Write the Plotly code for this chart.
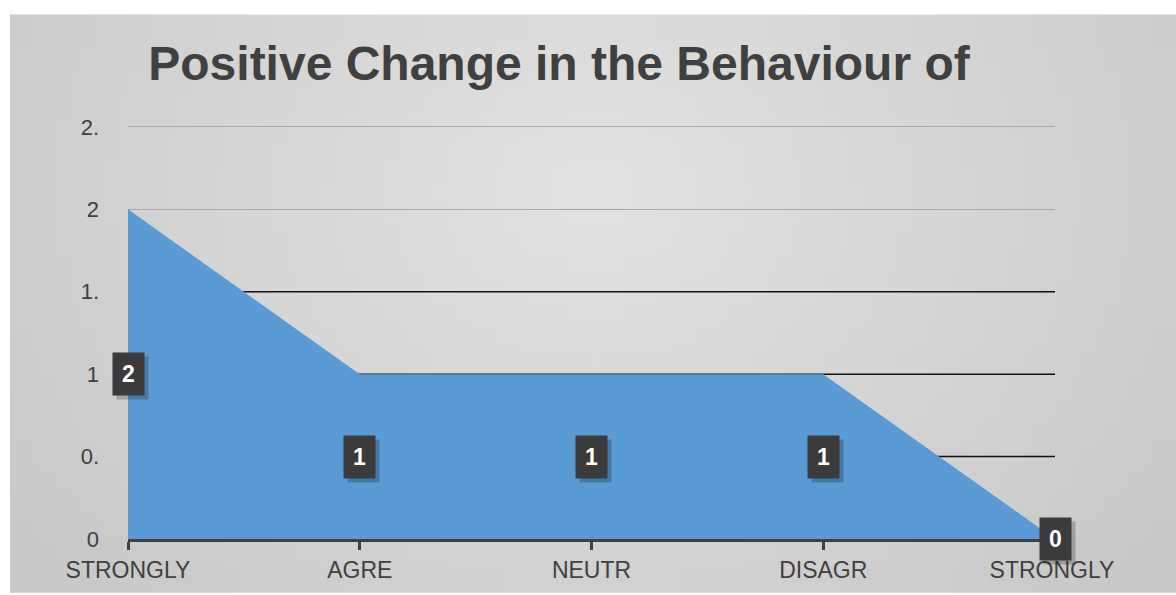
import base64
import struct
import zlib

import plotly.graph_objects as go

categories = ["STRONGLY", "AGRE", "NEUTR", "DISAGR", "STRONGLY "]
counts = [2, 1, 1, 1, 0]
y_tickvals = [0, 0.5, 1, 1.5, 2, 2.5]
y_ticktext = ["0", "0.", "1", "1.", "2", "2."]
dark_lines = [0.5, 1, 1.5]

title_text = "Positive Change in the Behaviour of"

DARK = "#404040"
FILL = "#5B9BD5"
FONT = "Liberation Sans, Arial, sans-serif"


def gradient_png(w, h):
    # soft grey radial gradient for the chart panel background
    rows = []
    for j in range(h):
        row = bytearray([0])
        for i in range(w):
            dx = (i / (w - 1) - 0.5) * 1.5
            dy = (j / (h - 1) - 0.3) * 0.9
            d = min(1.0, (dx * dx + dy * dy) ** 0.5)
            v = int(227 - 28 * d)
            row += bytes([v, v, v])
        rows.append(bytes(row))
    raw = b"".join(rows)

    def chunk(tag, data):
        c = struct.pack(">I", len(data)) + tag + data
        return c + struct.pack(">I", zlib.crc32(tag + data) & 0xFFFFFFFF)

    png = b"\x89PNG\r\n\x1a\n"
    png += chunk(b"IHDR", struct.pack(">IIBBBBB", w, h, 8, 2, 0, 0, 0))
    png += chunk(b"IDAT", zlib.compress(raw, 9))
    png += chunk(b"IEND", b"")
    return "data:image/png;base64," + base64.b64encode(png).decode()


x_idx = list(range(len(categories)))

fig = go.Figure()

# the lower gridlines are drawn darker in the original chart
for v in dark_lines:
    fig.add_trace(go.Scatter(x=[x_idx[0], x_idx[-1]], y=[v, v], mode="lines",
                             line=dict(color="#111111", width=1.5),
                             hoverinfo="skip", showlegend=False))

fig.add_trace(go.Scatter(x=x_idx, y=counts, mode="lines", fill="tozeroy",
                         fillcolor=FILL, line=dict(width=0, color=FILL),
                         hoverinfo="skip", showlegend=False))

# data labels: dark boxes with a drop shadow
for i, c in zip(x_idx, counts):
    fig.add_annotation(x=i, y=c / 2, text="", showarrow=False, width=27, height=38,
                       borderpad=2, bgcolor="rgba(0,0,0,0.22)", xshift=4, yshift=-4)
    fig.add_annotation(x=i, y=c / 2, text=f"<b>{c}</b>", showarrow=False,
                       width=27, height=38, borderpad=2, bgcolor="#3b3b3b",
                       font=dict(family=FONT, size=23, color="white"))

# plot area: y=0 at 541px, 2.5 at 127px (range padded a bit so the top gridline shows)
fig.add_layout_image(source=gradient_png(96, 48), xref="paper", yref="paper",
                     x=(10 - 128) / 927, y=(541 - 14) / 417,
                     sizex=1166 / 927, sizey=581 / 417,
                     xanchor="left", yanchor="top", sizing="stretch", layer="below")

fig.update_layout(
    width=1176, height=595,
    margin=dict(l=128, r=121, t=124, b=54),
    paper_bgcolor="white",
    plot_bgcolor="rgba(0,0,0,0)",
    title=dict(text=f"<b>{title_text}</b>", x=559 / 1176, xanchor="center",
               y=1 - 63 / 595, yanchor="middle",
               font=dict(family=FONT, size=48, color=DARK)),
    font=dict(family=FONT, color=DARK),
)
fig.update_xaxes(range=[0, 4], tickvals=x_idx, ticktext=categories,
                 showgrid=False, zeroline=False,
                 showline=True, linecolor=DARK, linewidth=3,
                 ticks="outside", ticklen=8, tickwidth=3, tickcolor=DARK,
                 tickfont=dict(family=FONT, size=23, color=DARK))
fig.update_yaxes(range=[0, 2.518], tickvals=y_tickvals, ticktext=y_ticktext,
                 showgrid=True, gridcolor="#a8a8a8", gridwidth=1,
                 zeroline=False, showline=False, ticks="",
                 ticklabelstandoff=28,
                 tickfont=dict(family=FONT, size=22, color=DARK))

fig.write_html("out.html", config={"displayModeBar": False},
               post_script="document.body.style.margin='0';")
